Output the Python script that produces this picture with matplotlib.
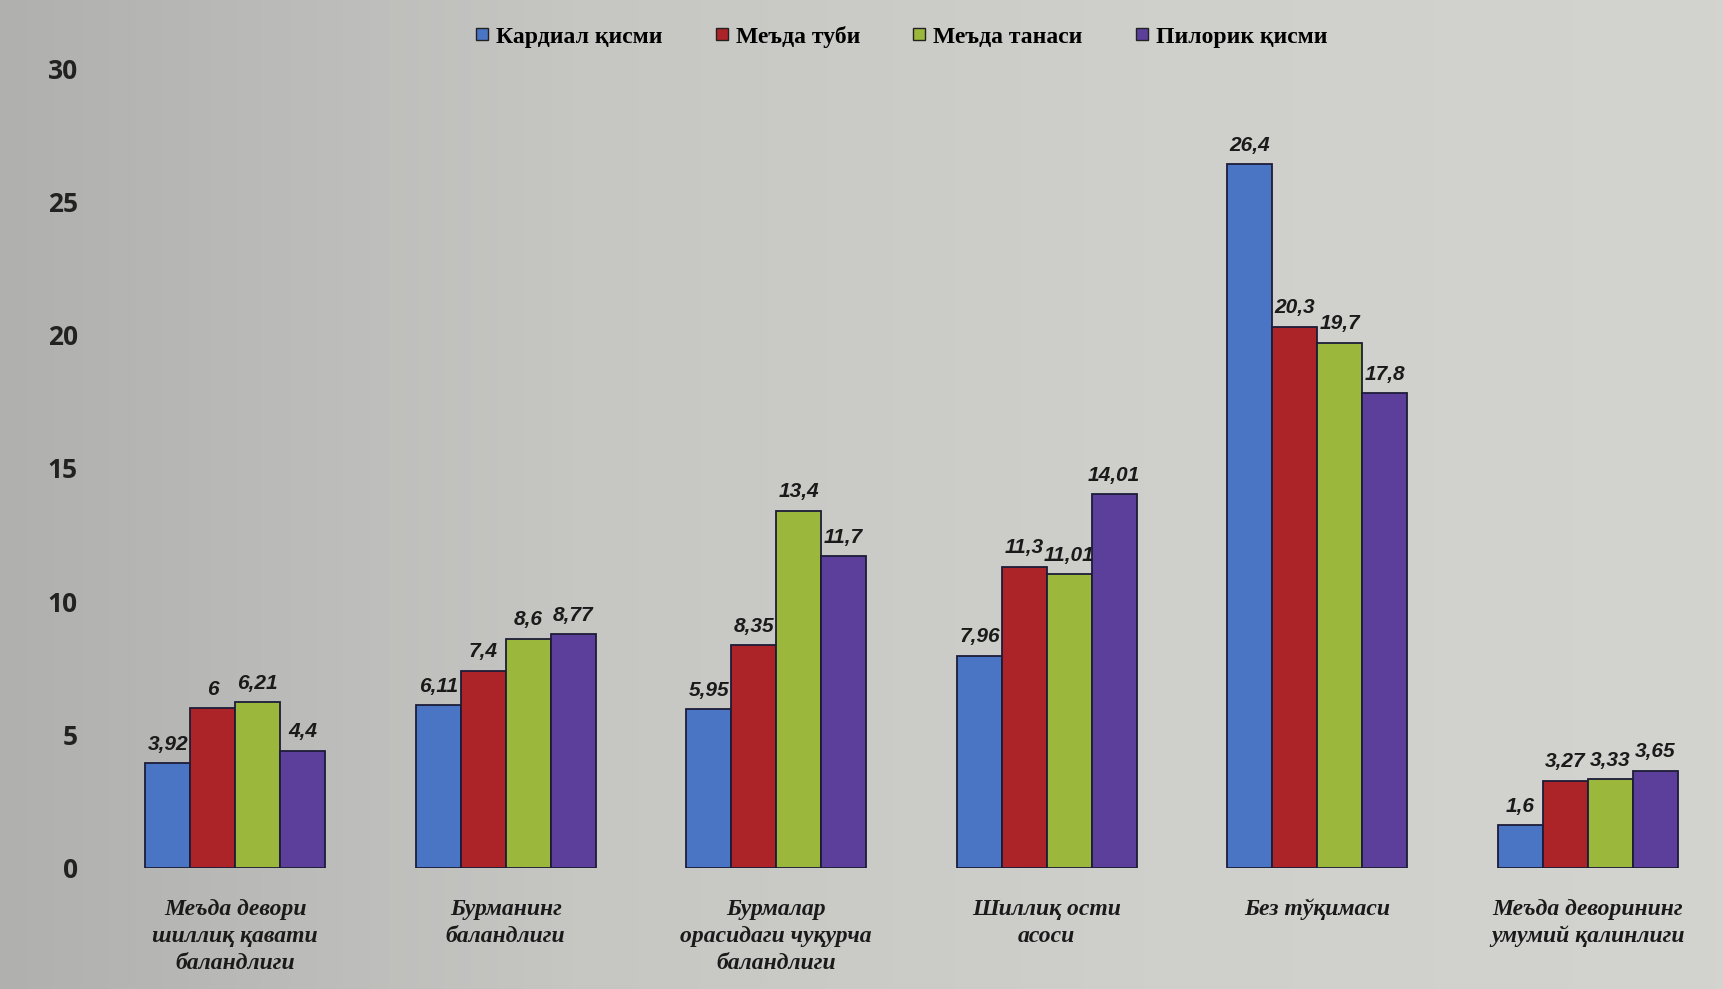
import numpy as np
import matplotlib
matplotlib.use("Agg")
import matplotlib.pyplot as plt
from matplotlib.lines import Line2D
from matplotlib.colors import LinearSegmentedColormap

# --- data -------------------------------------------------------------
categories = [
    "Меъда девори\nшиллиқ қавати\nбаландлиги",
    "Бурманинг\nбаландлиги",
    "Бурмалар\nорасидаги чуқурча\nбаландлиги",
    "Шиллиқ ости\nасоси",
    "Без тўқимаси",
    "Меъда деворининг\nумумий қалинлиги",
]
series_names = ["Кардиал қисми", "Меъда туби", "Меъда танаси", "Пилорик қисми"]
kardial = [3.92, 6.11, 5.95, 7.96, 26.4, 1.6]
tubi = [6, 7.4, 8.35, 11.3, 20.3, 3.27]
tanasi = [6.21, 8.6, 13.4, 11.01, 19.7, 3.33]
pilorik = [4.4, 8.77, 11.7, 14.01, 17.8, 3.65]
yticks = [0, 5, 10, 15, 20, 25, 30]

series = [kardial, tubi, tanasi, pilorik]
colors = ["#4a74c4", "#ad2428", "#9cb83c", "#5b3f9b"]


def fmt(v):
    s = f"{v:.2f}".rstrip("0").rstrip(".")
    return s.replace(".", ",")


fig = plt.figure(figsize=(17.23, 9.89), dpi=100)

# paper-toned backdrop, darker toward the left edge
bg = fig.add_axes([0, 0, 1, 1], zorder=-10)
grad = np.linspace(0, 1, 512)[None, :]
cmap = LinearSegmentedColormap.from_list(
    "paper", ["#b0b1af", "#c6c7c3", "#cfd0cb", "#d3d4cf"])
bg.imshow(grad, aspect="auto", cmap=cmap, extent=[0, 1, 0, 1])
bg.set_axis_off()

ax = fig.add_axes([0.058, 0.1224, 0.942, 0.8088])
ax.set_facecolor("none")

x = np.arange(len(categories))
w = 0.166
offsets = (np.arange(4) - 1.5) * w
for vals, off, col in zip(series, offsets, colors):
    bars = ax.bar(x + off, vals, width=w, color=col, edgecolor="#1c1c38",
                  linewidth=1.3, zorder=3)
    for b, v in zip(bars, vals):
        ax.text(b.get_x() + b.get_width() / 2, v + 0.35, fmt(v),
                ha="center", va="bottom", fontsize=15, fontweight="bold",
                style="italic", family="Liberation Sans", color="#1a1a1a",
                zorder=4)

ax.set_xlim(-0.5, len(categories) - 0.5)
ax.set_ylim(0, 30)
ax.set_yticks(yticks)
ax.set_yticklabels([str(t) for t in yticks], fontsize=19, fontweight="bold",
                   family="Open Sans", color="#222222")
ax.set_xticks(x)
ax.set_xticklabels(categories, fontsize=17, fontweight="bold", style="italic",
                   family="Liberation Serif", color="#1a1a1a",
                   linespacing=1.38, va="top")
ax.tick_params(axis="both", length=0)
ax.tick_params(axis="y", pad=16)
ax.tick_params(axis="x", pad=22)
for sp in ax.spines.values():
    sp.set_visible(False)

handles = [Line2D([], [], marker="s", linestyle="none", markersize=8,
                  markerfacecolor=c, markeredgecolor="#222222")
           for c in colors]
fig.legend(handles, series_names, loc="center", bbox_to_anchor=(0.523, 0.963),
           ncol=4, frameon=False, handlelength=0.6, handletextpad=0.3,
           columnspacing=2.2,
           prop={"family": "Liberation Serif", "weight": "bold", "size": 17})

fig.savefig("out.png", dpi=100)
